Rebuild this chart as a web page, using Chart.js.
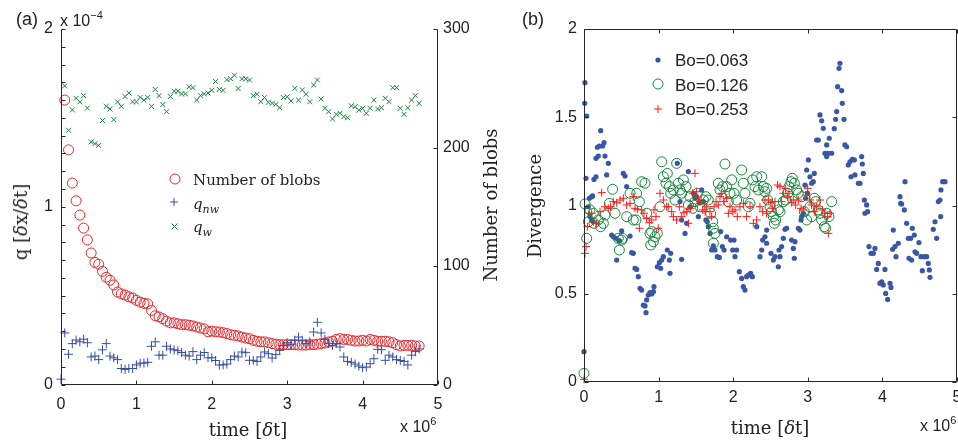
<!DOCTYPE html>
<html><head><meta charset="utf-8">
<script src="https://cdn.jsdelivr.net/npm/chart.js@4"></script>
<style>
html,body{margin:0;padding:0;background:#fff;}
#wrap{position:relative;width:958px;height:444px;overflow:hidden;font-family:"Liberation Sans",Arial,sans-serif;color:#222;}
canvas{position:absolute;left:0;top:0;}
.t{position:absolute;white-space:nowrap;line-height:1;}
.serif{font-family:"DejaVu Serif",serif;}
.c{transform:translate(-50%,-50%);}
.rot{transform:translate(-50%,-50%) rotate(-90deg);}
.lm{transform:translate(0,-50%);}
sup{font-size:11px;vertical-align:0;position:relative;top:-7px;}
sub{font-size:11px;vertical-align:0;position:relative;top:4px;}
</style></head><body>
<div id="wrap">
<canvas id="ca" width="958" height="444"></canvas>
<canvas id="cb" width="990" height="444"></canvas>

<div class="t" style="left:16px;top:10px;font-size:18px;">(a)</div>
<div class="t" style="left:60px;top:13px;font-size:16px;">x 10<sup>−4</sup></div>
<div class="t serif c" style="left:248px;top:430px;font-size:18px;">time [<i>δ</i>t]</div>
<div class="t" style="left:400px;top:419px;font-size:16px;">x 10<sup>6</sup></div>
<div class="t serif rot" style="left:21px;top:222px;font-size:18px;">q [<i>δ</i>x/<i>δ</i>t]</div>
<div class="t serif rot" style="left:491px;top:205px;font-size:18px;">Number of blobs</div>

<div class="t" style="left:522px;top:10px;font-size:18px;">(b)</div>
<div class="t serif rot" style="left:535px;top:206px;font-size:18px;">Divergence</div>
<div class="t serif c" style="left:770px;top:428px;font-size:18px;">time [<i>δ</i>t]</div>
<div class="t" style="left:920px;top:418px;font-size:16px;">x 10<sup>6</sup></div>

<!-- legend a -->
<svg style="position:absolute;left:169px;top:173px" width="12" height="12"><circle cx="6" cy="6" r="5" fill="none" stroke="#e8262a" stroke-width="1"/></svg>
<div class="t serif lm" style="left:193px;top:180px;font-size:15px;">Number of blobs</div>
<svg style="position:absolute;left:169px;top:197px" width="10" height="10"><path d="M5 1V9M1 5H9" stroke="#3650a0" stroke-width="1"/></svg>
<div class="t serif lm" style="left:193px;top:204px;font-size:15px;"><i>q<sub>nw</sub></i></div>
<svg style="position:absolute;left:170px;top:222px" width="9" height="9"><path d="M1.5 1.5L7.5 7.5M7.5 1.5L1.5 7.5" stroke="#16843c" stroke-width="1"/></svg>
<div class="t serif lm" style="left:193px;top:227px;font-size:15px;"><i>q<sub>w</sub></i></div>

<!-- legend b -->
<svg style="position:absolute;left:654px;top:56px" width="8" height="8"><circle cx="4" cy="4" r="2.6" fill="#3a56a6"/></svg>
<div class="t lm" style="left:675px;top:60px;font-size:17px;">Bo=0.063</div>
<svg style="position:absolute;left:652px;top:78px" width="12" height="12"><circle cx="6" cy="6" r="5" fill="none" stroke="#14873a" stroke-width="1"/></svg>
<div class="t lm" style="left:675px;top:85px;font-size:17px;">Bo=0.126</div>
<svg style="position:absolute;left:653px;top:104px" width="10" height="10"><path d="M5 1V9M1 5H9" stroke="#ff1a1a" stroke-width="1"/></svg>
<div class="t lm" style="left:675px;top:109px;font-size:17px;">Bo=0.253</div>
</div>

<script>
// ---------- Panel (a) data ----------
const timeA = [0,0.05,0.1,0.15,0.2,0.25,0.3,0.35,0.4,0.45,0.5,0.55,0.6,0.65,0.7,0.75,0.8,0.85,0.9,0.95,1,1.05,1.1,1.15,1.2,1.25,1.3,1.35,1.4,1.45,1.5,1.55,1.6,1.65,1.7,1.75,1.8,1.85,1.9,1.95,2,2.05,2.1,2.15,2.2,2.25,2.3,2.35,2.4,2.45,2.5,2.55,2.6,2.65,2.7,2.75,2.8,2.85,2.9,2.95,3,3.05,3.1,3.15,3.2,3.25,3.3,3.35,3.4,3.45,3.5,3.55,3.6,3.65,3.7,3.75,3.8,3.85,3.9,3.95,4,4.05,4.1,4.15,4.2,4.25,4.3,4.35,4.4,4.45,4.5,4.55,4.6,4.65,4.7,4.75];
const numBlobs = [null,240,198,170,155,143,132,122,111,103,101.5,95.5,90.5,88,84,78,76.5,75.5,74,73,71,69.5,68.5,68,62.5,58,57,55.5,53.5,52,52,51.3,50.5,50.5,50,49.4,48.5,47.7,47,44.5,45,44.5,44.3,43.7,43,42,41.5,41,40,39.2,38.7,37.3,36.5,36,36,35.3,34.5,34,33.6,33.6,33.6,33.6,33.6,33.3,33.3,33.3,33.6,33.6,34,34.5,35,35.9,36.5,38,38.7,38,38,37.3,36.7,36.7,37.3,36.7,38,37.3,36.5,36.5,36.5,36,35.3,33.6,32.5,33,33,33,32.5,32.5];
const qNw = [0.03,0.29,0.17,0.23,0.25,0.24,0.255,0.235,0.155,0.16,0.14,0.195,0.23,0.16,0.15,0.14,0.09,0.085,0.09,0.09,0.11,0.12,0.12,0.125,0.215,0.24,0.165,0.165,0.215,0.2,0.195,0.19,0.18,0.165,0.16,0.185,0.14,0.165,0.18,0.15,0.15,0.135,0.11,0.11,0.115,0.14,0.16,0.155,0.183,0.179,0.136,0.136,0.13,0.155,0.183,0.173,0.149,0.168,0.192,0.22,0.235,0.224,0.249,0.267,0.249,0.23,0.24,0.295,0.35,0.29,0.254,0.23,0.22,0.23,0.211,0.155,0.13,0.125,0.115,0.104,0.095,0.098,0.117,0.145,0.198,0.196,0.136,0.165,0.155,0.14,0.135,0.13,0.11,0.165,0.185,0.2];
const qW = [null,1.68,1.43,1.545,1.61,1.59,1.625,1.555,1.365,1.355,1.345,1.485,1.565,1.55,1.49,1.59,1.565,1.62,1.64,1.59,1.59,1.615,1.6,1.615,1.565,1.66,1.625,1.575,1.535,1.62,1.65,1.65,1.635,1.635,1.675,1.67,1.6,1.625,1.635,1.64,1.655,1.705,1.66,1.655,1.715,1.72,1.74,1.665,1.72,1.72,1.713,1.625,1.633,1.591,1.614,1.588,1.582,1.576,1.557,1.614,1.619,1.595,1.666,1.6,1.657,1.633,1.591,1.685,1.713,1.606,1.554,1.535,1.494,1.52,1.526,1.507,1.501,1.568,1.563,1.544,1.554,1.526,1.554,1.6,1.55,1.557,1.61,1.591,1.67,1.67,1.554,1.52,1.557,1.6,1.625,1.582];
const ticksA_x = [0,1,2,3,4,5];
const ticksA_left = [0,1,2];
const ticksA_right = [0,100,200,300];

// ---------- Panel (b) data ----------
const bo063T = [0,0.009,0.013,0.027,0.036,0.058,0.072,0.08,0.103,0.103,0.116,0.125,0.134,0.161,0.161,0.179,0.192,0.205,0.223,0.25,0.268,0.281,0.304,0.326,0.371,0.393,0.429,0.438,0.474,0.505,0.527,0.55,0.572,0.617,0.639,0.661,0.684,0.706,0.728,0.751,0.773,0.795,0.818,0.831,0.84,0.862,0.885,0.907,0.93,0.938,0.983,1.01,1.028,1.041,1.064,1.117,1.144,1.153,1.162,1.251,1.287,1.309,1.309,1.354,1.376,1.399,1.421,1.466,1.488,1.51,1.533,1.546,1.577,1.6,1.635,1.653,1.667,1.689,1.711,1.734,1.756,1.787,1.814,1.832,1.854,1.877,1.913,1.966,1.993,2.011,2.024,2.046,2.082,2.113,2.136,2.158,2.18,2.203,2.234,2.256,2.315,2.359,2.382,2.395,2.426,2.448,2.449,2.506,2.538,2.56,2.605,2.614,2.627,2.649,2.672,2.694,2.716,2.783,2.806,2.819,2.828,2.873,2.895,2.909,2.918,2.94,2.962,2.971,2.985,2.998,3.007,3.029,3.051,3.074,3.087,3.119,3.141,3.163,3.186,3.208,3.23,3.253,3.253,3.275,3.288,3.32,3.355,3.373,3.387,3.4,3.418,3.431,3.454,3.463,3.485,3.498,3.521,3.543,3.565,3.579,3.597,3.624,3.632,3.677,3.7,3.722,3.731,3.744,3.758,3.766,3.789,3.802,3.82,3.847,3.878,3.9,3.923,3.945,3.967,3.99,4.012,4.034,4.044,4.07,4.102,4.115,4.137,4.146,4.169,4.182,4.213,4.236,4.245,4.258,4.294,4.303,4.325,4.347,4.356,4.379,4.392,4.401,4.428,4.437,4.459,4.49,4.517,4.535,4.562,4.593,4.615,4.629,4.638,4.682,4.705,4.727,4.75,4.772,4.781,4.785,4.808,4.839];
const bo063D = [0.172,1.579,1.696,1.154,1.507,0.993,1.041,0.937,1.05,0.918,1.054,0.908,1.148,1.163,1.267,1.33,1.28,1.337,1.424,1.337,1.356,1.28,1.173,1.239,0.833,0.823,0.814,0.691,0.801,0.857,1.182,1.167,1.107,0.827,0.733,0.729,0.644,0.638,0.597,0.531,0.521,0.436,0.431,0.393,0.465,0.493,0.506,0.499,0.512,0.54,0.653,0.676,0.644,0.691,0.71,0.748,0.691,0.616,0.729,1.239,1.022,0.918,0.695,0.842,0.899,1.192,0.993,1.069,1.041,1.05,0.937,1.016,1.088,1.022,0.918,0.908,0.88,0.842,0.748,0.771,0.748,0.71,0.706,0.852,0.767,0.748,0.823,0.804,0.748,0.804,0.71,0.748,0.625,0.587,0.54,0.521,0.597,0.606,0.616,0.597,0.88,0.71,0.748,0.804,0.823,0.786,0.861,0.729,0.691,0.71,0.653,0.748,0.71,0.767,0.814,0.865,0.871,0.804,0.757,0.701,0.795,0.871,0.861,0.918,0.937,0.956,1.116,1.041,1.201,1.069,1.258,1.163,1.126,1.135,1.182,1.371,1.371,1.513,1.48,1.437,1.296,1.343,1.277,1.296,1.381,1.296,1.435,1.488,1.532,1.673,1.777,1.806,1.651,1.579,1.488,1.343,1.333,1.23,1.248,1.163,1.262,1.258,1.173,1.126,1.126,1.277,1.235,1.182,1.031,0.956,1.003,0.965,0.767,0.729,0.729,0.757,0.638,0.672,0.559,0.568,0.55,0.638,0.502,0.468,0.559,0.536,0.752,0.861,0.767,0.71,0.786,1.05,1.012,1.008,0.975,1.135,0.899,0.814,0.701,0.814,0.691,0.871,0.833,0.738,0.729,0.79,0.71,0.631,0.71,0.71,0.672,0.635,0.593,0.865,0.908,0.814,1.022,1.031,0.937,1.088,1.135,1.135];

const bo126T = [0,0.013,0.036,0.058,0.08,0.125,0.134,0.192,0.223,0.259,0.281,0.34,0.384,0.416,0.46,0.474,0.505,0.518,0.572,0.617,0.661,0.697,0.706,0.742,0.773,0.818,0.84,0.885,0.894,0.907,0.93,0.952,0.983,1.019,1.041,1.064,1.099,1.117,1.144,1.162,1.198,1.22,1.242,1.265,1.287,1.309,1.332,1.367,1.399,1.421,1.457,1.488,1.519,1.555,1.6,1.635,1.667,1.698,1.725,1.734,1.756,1.734,1.8,1.823,1.859,1.89,1.912,1.935,1.957,1.98,2.011,2.046,2.113,2.136,2.158,2.203,2.225,2.261,2.292,2.315,2.337,2.382,2.404,2.426,2.448,2.462,2.493,2.515,2.538,2.551,2.569,2.605,2.627,2.672,2.703,2.73,2.748,2.775,2.792,2.819,2.85,2.873,2.917,2.953,2.985,3.029,3.052,3.087,3.105,3.141,3.163,3.186,3.221,3.239,3.253,3.284,3.32];
const bo126D = [0.049,1.009,0.814,0.908,0.975,0.956,0.899,0.918,0.88,0.899,0.946,1.012,1.092,0.956,0.814,0.748,0.804,0.814,0.937,1.069,0.918,0.918,1.069,1.022,1.135,1.126,0.956,0.842,0.776,0.852,0.795,0.823,0.842,0.993,1.248,1.163,1.126,1.182,1.107,1.069,1.088,1.031,1.239,1.126,1.088,1.069,1.145,1.107,1.003,1.05,0.984,1.022,1.069,0.993,1.031,1.05,1.031,0.956,0.908,0.871,0.842,0.786,1.126,1.088,1.107,1.235,1.107,1.022,1.069,1.145,1.069,1.031,1.201,1.126,1.069,0.993,1.012,1.145,1.107,1.163,1.088,1.163,1.107,1.078,1.097,1.031,0.993,0.965,0.937,0.899,0.918,0.975,0.965,1.022,1.031,1.069,1.107,1.135,1.154,1.126,1.088,1.069,1.05,0.965,0.918,0.993,0.937,1.041,1.022,0.975,0.956,0.918,0.88,0.871,0.956,0.937,1.022];

const bo253T = [0,0.013,0.027,0.045,0.072,0.103,0.125,0.17,0.215,0.237,0.281,0.326,0.357,0.393,0.438,0.483,0.527,0.572,0.617,0.661,0.684,0.715,0.742,0.773,0.804,0.84,0.876,0.907,0.938,0.965,0.996,1.019,1.064,1.108,1.13,1.175,1.198,1.242,1.278,1.309,1.34,1.376,1.399,1.43,1.457,1.488,1.51,1.533,1.555,1.591,1.622,1.644,1.689,1.711,1.743,1.77,1.8,1.823,1.845,1.877,1.912,1.935,1.957,1.993,2.024,2.055,2.091,2.136,2.18,2.225,2.27,2.315,2.359,2.395,2.426,2.448,2.471,2.506,2.524,2.56,2.596,2.627,2.649,2.672,2.703,2.73,2.748,2.783,2.806,2.837,2.873,2.909,2.94,2.971,2.998,3.029,3.051,3.087,3.119,3.163,3.195,3.23,3.266,3.275,3.297];
const bo253D = [0.015,0.729,0.767,0.88,0.956,0.956,0.908,0.899,0.965,1.073,0.993,0.984,0.993,1.022,1.016,1.031,1.041,1.003,1.012,1.05,0.984,0.978,0.871,0.975,0.956,0.927,0.903,0.918,0.975,0.937,0.871,1.069,1.031,0.993,0.993,0.965,0.937,0.918,0.993,0.937,0.959,0.965,0.899,0.984,1.069,1.182,1.078,1.031,1.022,0.975,0.965,0.993,0.965,0.937,0.993,1.022,1.003,1.05,1.069,1.022,1.041,0.956,0.993,0.965,0.975,0.937,0.993,1.012,0.937,0.993,0.899,0.918,0.993,0.965,1.031,0.956,1.031,1.016,0.984,1.022,1.116,1.107,1.022,1.069,1.097,1.05,1.069,1.016,1.031,1.003,1.031,0.984,0.975,1.059,1.097,1.031,1.003,0.965,0.993,1.031,0.975,0.956,0.937,0.842,0.956];
const ticksB_x = [0,1,2,3,4,5];
const ticksB_y = [0,0.5,1,1.5,2];

// ---------- helpers ----------
const pts = (xs, ys) => xs.map((x,i)=>({x:x,y:ys[i]})).filter(p=>p.y!==null && p.y!==undefined);
const tickFont = {family:'"Liberation Sans", Arial, sans-serif', size:16};
const tickColor = '#222';

const frame = {
  id:'frame',
  afterDatasetsDraw(chart, args, o){
    const {ctx, chartArea:a, scales} = chart;
    ctx.save();
    ctx.strokeStyle = '#262626'; ctx.lineWidth = 1;
    const L = Math.round(a.left)+0.5, R = Math.round(a.right)-0.5, T = Math.round(a.top)+0.5, B = Math.round(a.bottom)-0.5;
    const len = o.len;
    ctx.beginPath();
    ctx.moveTo(L,T); ctx.lineTo(L,B); ctx.lineTo(R,B);
    if (o.right) { ctx.moveTo(R,B); ctx.lineTo(R,T); }
    if (o.top) { ctx.moveTo(L,T); ctx.lineTo(R,T); }
    scales.x.ticks.forEach(t=>{
      const p = Math.round(scales.x.getPixelForValue(t.value))+0.5;
      ctx.moveTo(p,B); ctx.lineTo(p,B-len);
      if (o.top) { ctx.moveTo(p,T); ctx.lineTo(p,T+len); }
    });
    scales.y.ticks.forEach(t=>{
      const p = Math.round(scales.y.getPixelForValue(t.value))+0.5;
      ctx.moveTo(L,p); ctx.lineTo(L+len,p);
      if (o.rightTicks) { ctx.moveTo(R,p); ctx.lineTo(R-len,p); }
    });
    if (scales.y2) scales.y2.ticks.forEach(t=>{
      const p = Math.round(scales.y2.getPixelForValue(t.value))+0.5;
      ctx.moveTo(R,p); ctx.lineTo(R-len,p);
    });
    ctx.stroke();
    ctx.restore();
  }
};

function tickValues(list){ return function(scale){ scale.ticks = list.map(v=>({value:v})); }; }
function noPad(w,h){ return function(s){ if(w!==null) s.width=w; if(h!==null) s.height=h; s.paddingLeft=0; s.paddingRight=0; s.paddingTop=0; s.paddingBottom=0; }; }

// ---------- Chart (a) ----------
new Chart(document.getElementById('ca'), {
  type:'scatter',
  data:{datasets:[
    {label:'q_nw', data:pts(timeA,qNw), yAxisID:'y', pointStyle:'cross', pointRadius:4.5, borderColor:'#3650a0', borderWidth:1, backgroundColor:'#3650a0', order:1},
    {label:'Number of blobs', data:pts(timeA,numBlobs), yAxisID:'y2', pointStyle:'circle', pointRadius:5, borderColor:'#e8262a', borderWidth:1, backgroundColor:'rgba(0,0,0,0)', order:2},
    {label:'q_w', data:pts(timeA,qW), yAxisID:'y', pointStyle:'crossRot', pointRadius:3.5, borderColor:'#16843c', borderWidth:1, backgroundColor:'#16843c', order:3}
  ]},
  options:{
    responsive:false, animation:false, devicePixelRatio:1, clip:false,
    layout:{padding:{left:0,top:29,right:0,bottom:0}},
    plugins:{legend:{display:false}, tooltip:{enabled:false}, frame:{len:4, right:true, top:false}},
    scales:{
      x:{type:'linear', min:0, max:5, position:'bottom',
         afterBuildTicks:tickValues(ticksA_x),
         ticks:{font:tickFont, color:tickColor, padding:10, maxRotation:0, autoSkip:false},
         grid:{display:false, drawTicks:false}, border:{display:false}, afterFit:noPad(null,59.5)},
      y:{type:'linear', min:0, max:2, position:'left',
         ticks:{stepSize:0.1, autoSkip:false, font:tickFont, color:tickColor, padding:8,
                callback:v=> ticksA_left.some(t=>Math.abs(t-v)<1e-6) ? String(Math.round(v)) : ''},
         grid:{display:false, drawTicks:false}, border:{display:false}, afterFit:noPad(61,null)},
      y2:{type:'linear', min:0, max:300, position:'right',
         afterBuildTicks:tickValues(ticksA_right),
         ticks:{font:tickFont, color:tickColor, padding:5, autoSkip:false},
         grid:{display:false, drawTicks:false}, border:{display:false}, afterFit:noPad(520,null)}
    }
  },
  plugins:[frame]
});

// ---------- Chart (b) ---------- (canvas wider than page so the cut "5" label and right border sit at the page edge)
new Chart(document.getElementById('cb'), {
  type:'scatter',
  data:{datasets:[
    {label:'Bo=0.063', data:pts(bo063T,bo063D), pointStyle:'circle', pointRadius:2.6, borderWidth:0, backgroundColor:'#3a56a6', borderColor:'#3a56a6', order:3},
    {label:'Bo=0.126', data:pts(bo126T,bo126D), pointStyle:'circle', pointRadius:5, borderWidth:1, backgroundColor:'rgba(0,0,0,0)', borderColor:'#14873a', order:2},
    {label:'Bo=0.253', data:pts(bo253T,bo253D), pointStyle:'cross', pointRadius:4, borderWidth:1, backgroundColor:'#ff1a1a', borderColor:'#ff1a1a', order:1}
  ]},
  options:{
    responsive:false, animation:false, devicePixelRatio:1, clip:false,
    layout:{padding:{left:0,top:29,right:33,bottom:0}},
    plugins:{legend:{display:false}, tooltip:{enabled:false}, frame:{len:4, right:true, top:true, rightTicks:true}},
    scales:{
      x:{type:'linear', min:0, max:5, position:'bottom',
         afterBuildTicks:tickValues(ticksB_x),
         ticks:{font:tickFont, color:tickColor, padding:6, maxRotation:0, autoSkip:false},
         grid:{display:false, drawTicks:false}, border:{display:false}, afterFit:noPad(null,62)},
      y:{type:'linear', min:0, max:2, position:'left',
         afterBuildTicks:tickValues(ticksB_y),
         ticks:{font:tickFont, color:tickColor, padding:7, autoSkip:false, callback:v=>String(v)},
         grid:{display:false, drawTicks:false}, border:{display:false}, afterFit:noPad(584,null)}
    }
  },
  plugins:[frame]
});
</script>
</body></html>
